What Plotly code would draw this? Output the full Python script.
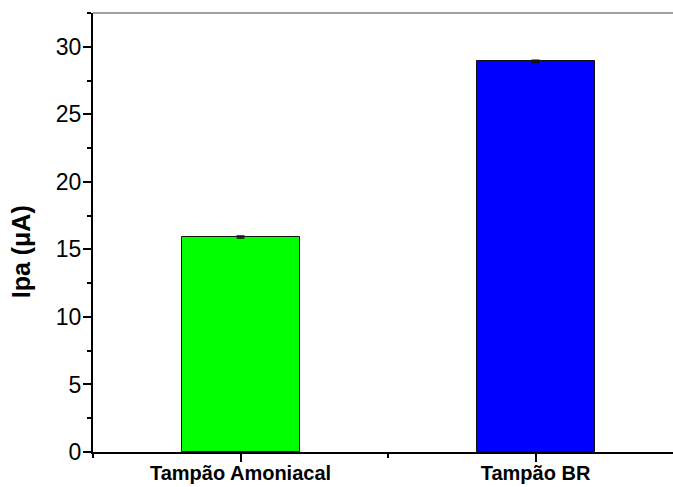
import plotly.graph_objects as go

categories = ["Tampão Amoniacal", "Tampão BR"]
ipa_values = [15.92, 28.93]
ipa_errors = [0.08, 0.07]
bar_colors = ["#00FF00", "#0000FF"]
y_ticks = [0, 5, 10, 15, 20, 25, 30]

x_pos = list(range(len(categories)))

fig = go.Figure()
fig.add_trace(go.Bar(
    x=x_pos,
    y=ipa_values,
    width=0.4,
    marker=dict(color=bar_colors, line=dict(color="#111111", width=1)),
    error_y=dict(type="data", array=ipa_errors, visible=True,
                 color="#111111", thickness=1.5, width=4),
    showlegend=False,
))

font = "Liberation Sans, Arial, sans-serif"

fig.update_layout(
    width=673, height=487,
    margin=dict(l=93, r=0, t=13, b=35, autoexpand=False),
    paper_bgcolor="white", plot_bgcolor="white",
    bargap=0,
    xaxis=dict(
        range=[-0.5, 1.466], automargin=False,
        tickvals=x_pos, ticktext=categories,
        ticks="outside", ticklen=8, tickwidth=1.5, tickcolor="black",
        showline=True, linecolor="black", linewidth=2,
        showgrid=False, zeroline=False,
        ticklabelstandoff=-6,
        tickfont=dict(family=font, size=20, color="black", weight="bold"),
        minor=dict(tick0=0.5, dtick=1, ticks="outside", ticklen=4,
                   tickwidth=1.5, tickcolor="black"),
    ),
    yaxis=dict(
        range=[0, 32.5], automargin=False,
        tickvals=y_ticks,
        ticks="outside", ticklen=8, tickwidth=1.5, tickcolor="black",
        showline=True, linecolor="black", linewidth=2,
        showgrid=False, zeroline=False,
        ticklabelstandoff=-3,
        tickfont=dict(family=font, size=23, color="black"),
        minor=dict(dtick=2.5, ticks="outside", ticklen=4,
                   tickwidth=1.5, tickcolor="black"),
    ),
    shapes=[dict(type="line", xref="paper", yref="paper",
                 x0=0, x1=1, y0=1, y1=1,
                 line=dict(color="#808080", width=1.5))],
    annotations=[dict(
        text="Ipa (μA)", xref="paper", yref="paper",
        x=-0.125, y=0.456, xanchor="center", yanchor="middle",
        textangle=-90, showarrow=False,
        font=dict(family=font, size=25, color="black", weight="bold"),
    )],
)

fig.write_html("out.html")
